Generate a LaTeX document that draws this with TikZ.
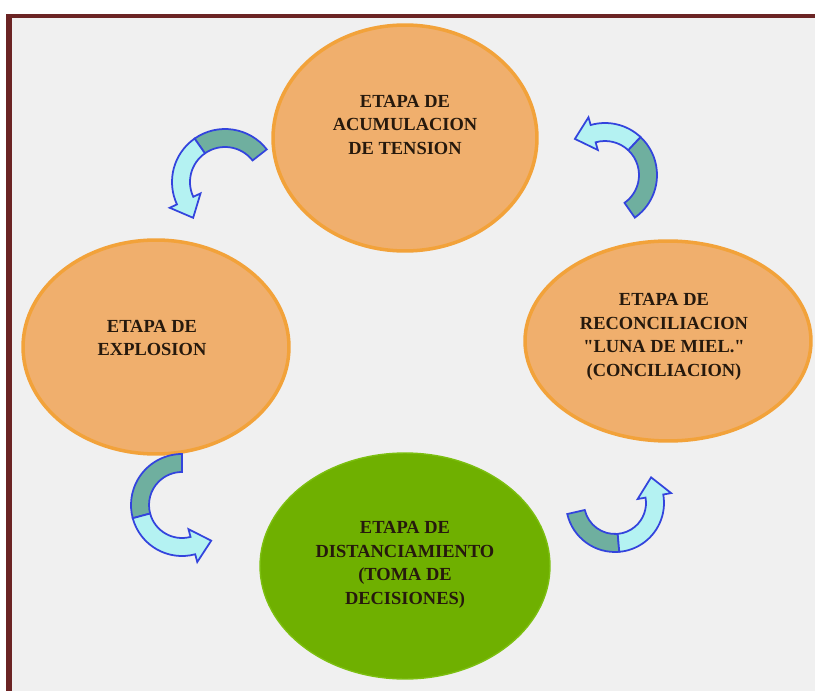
\documentclass[tikz,border=0pt]{standalone}
\usepackage{fontspec}
\setmainfont{Liberation Serif}
\usetikzlibrary{shapes.geometric,calc}

\definecolor{marco}{HTML}{6B2424}
\definecolor{fondo}{HTML}{F0F0F0}
\definecolor{naranjafill}{HTML}{F0AF6D}
\definecolor{naranjaborde}{HTML}{F2A23A}
\definecolor{verdefill}{HTML}{6FB000}
\definecolor{verdeborde}{HTML}{7CBF10}
\definecolor{flechaosc}{HTML}{6FAF9F}
\definecolor{flechaclara}{HTML}{B4F2F2}
\definecolor{flechaborde}{HTML}{3344DD}

% flecha curva: centro, radio, angulo inicial, cambio de color, base de la punta
\newcommand{\ciclo}[5]{%
  \pgfmathsetmacro\rext{#2+9}%
  \pgfmathsetmacro\rint{#2-9}%
  \fill[flechaosc, draw=flechaborde, line width=1pt]
    ($(#1)+({#3}:{\rext})$) arc[start angle=#3, end angle=#4, radius=\rext]
    -- ($(#1)+({#4}:{\rint})$) arc[start angle=#4, end angle=#3, radius=\rint] -- cycle;
  \fill[flechaclara, draw=flechaborde, line width=1pt]
    ($(#1)+({#4}:{\rext})$) arc[start angle=#4, end angle=#5, radius=\rext]
    -- ($(#1)+({#5}:{#2+17})$)
    -- ($(#1)+({#5}:{#2})+({#5+90}:19)$)
    -- ($(#1)+({#5}:{#2-17})$)
    -- ($(#1)+({#5}:{\rint})$) arc[start angle=#5, end angle=#4, radius=\rint] -- cycle;
}

\begin{document}
\begin{tikzpicture}[x=0.02cm, y=0.02cm,
    etapa/.style={ellipse, inner sep=0pt},
    naranja/.style={fill=naranjafill, draw=naranjaborde, line width=2pt},
    verde/.style={fill=verdefill, draw=verdeborde, line width=0.8pt},
    texto/.style={align=center, text=black!80!brown,
      font=\fontsize{10.5}{13.5}\selectfont\bfseries}]
    \useasboundingbox (0,0) rectangle (815,691);

    % fondo y marco
    \fill[fondo] (12,0) rectangle (815,673);
    \fill[marco] (6,0) rectangle (12,677);
    \fill[marco] (6,673) rectangle (815,677);

    % etapas del ciclo
    \node[etapa, naranja, minimum width=5.28cm, minimum height=4.52cm] (acum) at (405,553) {};
    \node[etapa, naranja, minimum width=5.72cm, minimum height=4.0cm] (reco) at (668,350) {};
    \node[etapa, naranja, minimum width=5.32cm, minimum height=4.28cm] (expl) at (156,344) {};
    \node[etapa, verde, minimum width=5.8cm, minimum height=4.52cm] (dist) at (405,125) {};

    % textos
    \node[texto] (acumtxt) at ($(acum)+(0,13)$) {ETAPA DE\\ACUMULACION\\DE TENSION};
    \node[texto] (recotxt) at ($(reco)+(-4,4)$) {ETAPA DE\\RECONCILIACION\\\textquotedbl LUNA DE MIEL.\textquotedbl\\(CONCILIACION)};
    \node[texto] (expltxt) at ($(expl)+(-4,9)$) {ETAPA DE\\EXPLOSION};
    \node[texto] (disttxt) at ($(dist)+(0,1)$) {ETAPA DE\\DISTANCIAMIENTO\\(TOMA DE\\DECISIONES)};

    % flechas curvas
    \coordinate (c1) at (225,509);
    \coordinate (c2) at (605,516);
    \coordinate (c3) at (182,186);
    \coordinate (c4) at (615,188);
    \ciclo{c1}{44}{38}{125}{205}
    \ciclo{c2}{43}{-55}{47}{106}
    \ciclo{c3}{42}{90}{195}{285}
    \ciclo{c4}{40}{193}{275}{370}
\end{tikzpicture}
\end{document}
